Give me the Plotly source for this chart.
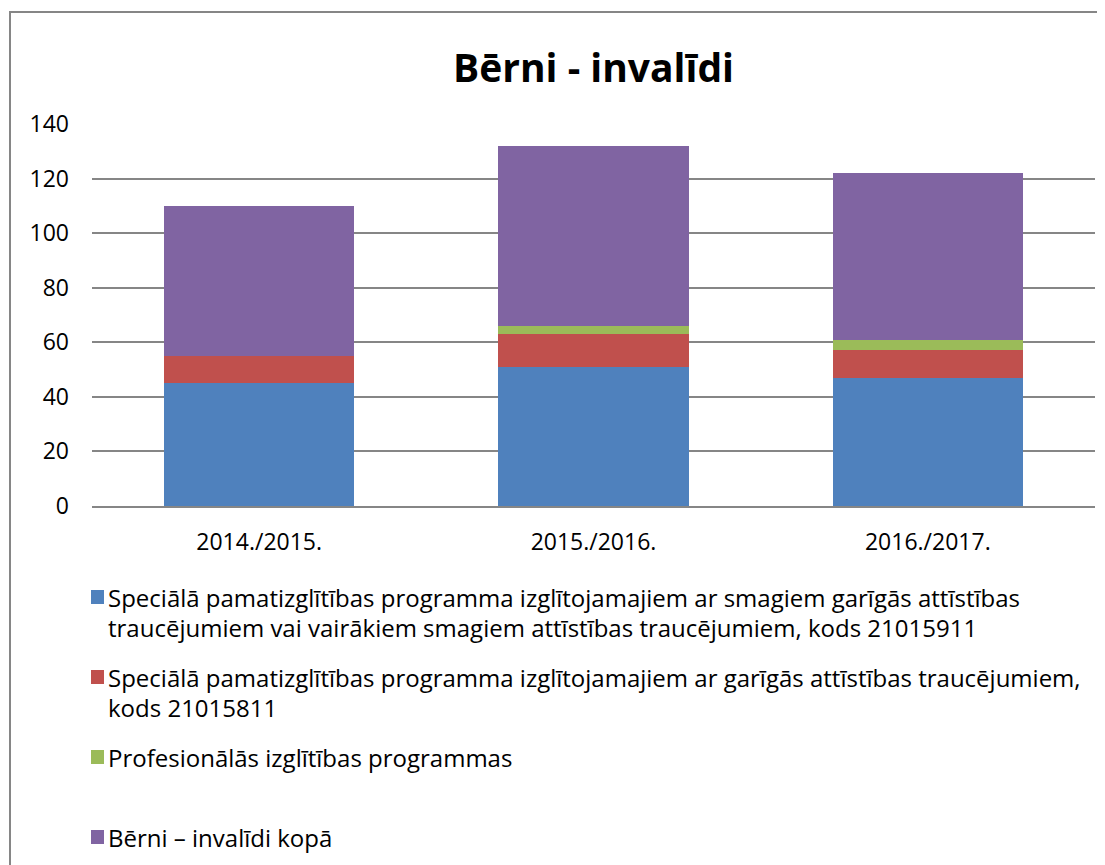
import plotly.graph_objects as go

# ── Data ──
years = ['2014./2015.', '2015./2016.', '2016./2017.']
severe = [45, 51, 47]
mental = [10, 12, 10]
prof = [0, 3, 4]
total = [55, 66, 61]

names = [
    'Speciālā pamatizglītības programma izglītojamajiem ar smagiem garīgās attīstības',
    'Speciālā pamatizglītības programma izglītojamajiem ar garīgās attīstības traucējumiem,',
    'Profesionālās izglītības programmas',
    'Bērni – invalīdi kopā',
]
# second lines of the wrapped legend entries
name_tails = [
    'traucējumiem vai vairākiem smagiem attīstības traucējumiem, kods 21015911',
    'kods 21015811',
    None,
    None,
]
colors = ['#4F81BD', '#C0504D', '#9BBB59', '#8064A2']
series = [severe, mental, prof, total]

# page body has an 8px margin, so the figure is shrunk to fit the window
OFF = 8
W, H = 1105 - OFF, 865 - OFF
L, R, T, B = 92 - OFF, 18 - OFF, 124 - OFF, 865 - 506
pw, ph = W - L - R, H - T - B
FONT = 'Open Sans, sans-serif'
FS = 23


def px_x(x):
    # screen x (reference pixels) -> paper
    return (x - OFF - L) / pw


def px_y(y):
    # screen y (reference pixels) -> paper
    return (H - B - (y - OFF)) / ph


fig = go.Figure()
for vals, nm, c in zip(series, names, colors):
    fig.add_trace(go.Bar(
        x=years, y=vals, name=nm, showlegend=False,
        marker=dict(color=c, line=dict(width=0)),
    ))

# outer chart border
shapes = [dict(type='rect', xref='paper', yref='paper',
               x0=px_x(10), x1=px_x(1103), y0=px_y(900), y1=px_y(12),
               line=dict(color='#868686', width=2), layer='below')]

# hand-laid legend (Excel-style line spacing)
annotations = []
legend_y = [597, 677, 757, 837]
for nm, tail, c, ly in zip(names, name_tails, colors, legend_y):
    shapes.append(dict(type='rect', xref='paper', yref='paper',
                       x0=px_x(91), x1=px_x(104), y0=px_y(ly + 7), y1=px_y(ly - 7),
                       fillcolor=c, line=dict(width=0)))
    lines = [nm] + ([tail] if tail else [])
    for k, txt in enumerate(lines):
        annotations.append(dict(
            text=txt, xref='paper', yref='paper', x=px_x(106), y=px_y(ly + 30 * k),
            xanchor='left', yanchor='middle', showarrow=False,
            font=dict(size=24, family=FONT, color='#000'),
        ))

fig.update_layout(
    width=W, height=H,
    barmode='stack', bargap=0.43,
    paper_bgcolor='white', plot_bgcolor='white',
    margin=dict(l=L, r=R, t=T, b=B, autoexpand=False),
    showlegend=False,
    font=dict(family=FONT, size=FS, color='#000'),
    title=dict(text='<b>Bērni - invalīdi</b>', x=0.5, xref='paper', xanchor='center',
               y=1 - (68 - OFF) / H, yanchor='middle',
               font=dict(size=39, family=FONT, color='#000')),
    xaxis=dict(showgrid=False, showline=True, linecolor='#868686', linewidth=2,
               ticks='', ticklabelstandoff=14, tickfont=dict(size=FS)),
    yaxis=dict(range=[0, 140], dtick=20, showgrid=True, gridcolor='#868686',
               gridwidth=1.5, zeroline=False, ticks='', ticklabelstandoff=22,
               tickfont=dict(size=FS), showline=False),
    shapes=shapes,
    annotations=annotations,
)

fig.write_html('out.html')
